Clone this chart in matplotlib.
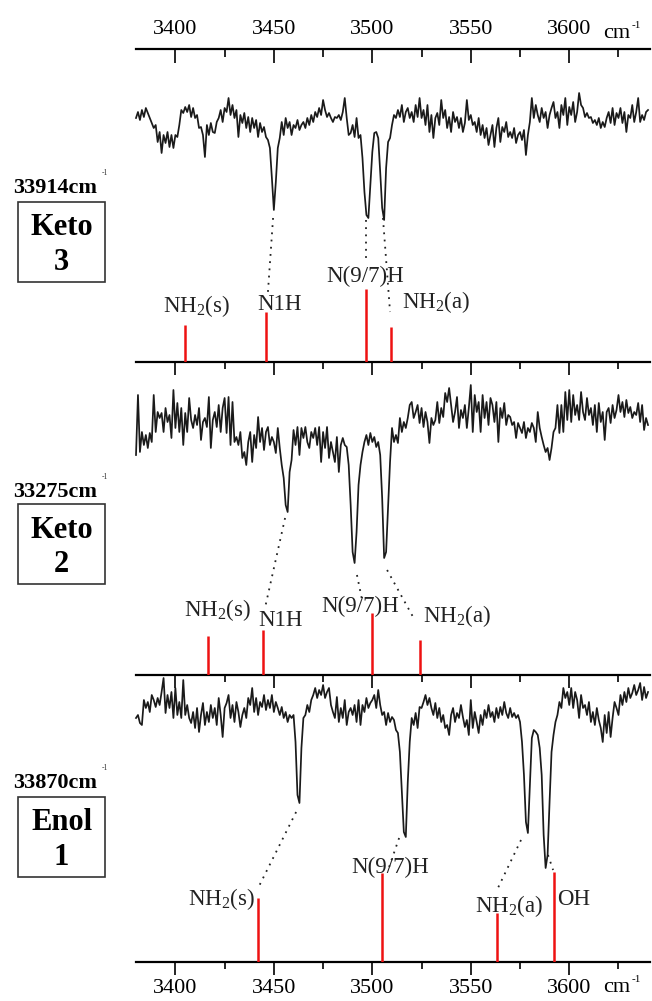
import numpy as np
import matplotlib
matplotlib.use("Agg")
import matplotlib.pyplot as plt
from matplotlib.patches import Rectangle
from matplotlib.ticker import MultipleLocator, FixedLocator

plt.rcParams['font.family'] = ['Liberation Serif', 'DejaVu Serif']
plt.rcParams['mathtext.fontset'] = 'custom'
plt.rcParams['mathtext.rm'] = 'Liberation Serif'
plt.rcParams['mathtext.it'] = 'Liberation Serif:italic'
plt.rcParams['mathtext.bf'] = 'Liberation Serif:bold'
plt.rcParams['mathtext.default'] = 'regular'

# ---------------- data ----------------
wavenumber = np.arange(3380, 3641)  # cm^-1, 1 cm^-1 sampling
major_ticks = [3400, 3450, 3500, 3550, 3600]
minor_ticks = [3425, 3475, 3525, 3575, 3625]

keto3_signal = [
    244, 250, 242, 252, 245, 254, 249, 244, 239, 234,
    237, 220, 230, 209, 227, 219, 230, 215, 227, 214,
    227, 225, 237, 252, 249, 255, 250, 257, 245, 254,
    244, 247, 234, 235, 227, 205, 237, 227, 239, 230,
    229, 240, 244, 252, 240, 254, 250, 264, 247, 257,
    244, 252, 225, 247, 239, 249, 234, 245, 230, 244,
    234, 242, 225, 239, 230, 235, 225, 222, 214, 184,
    152, 180, 214, 224, 240, 227, 244, 234, 240, 227,
    237, 234, 242, 232, 237, 240, 234, 244, 237, 247,
    240, 250, 245, 254, 247, 262, 252, 245, 249, 244,
    240, 245, 244, 247, 242, 250, 264, 244, 227, 229,
    237, 225, 244, 224, 227, 204, 170, 147, 144, 177,
    210, 229, 230, 224, 190, 154, 142, 194, 220, 224,
    237, 247, 244, 252, 245, 257, 240, 250, 254, 244,
    250, 240, 257, 245, 264, 244, 252, 237, 257, 230,
    247, 224, 244, 249, 237, 262, 244, 252, 234, 245,
    230, 250, 240, 245, 234, 244, 230, 239, 262, 242,
    247, 237, 240, 230, 244, 227, 237, 224, 234, 217,
    227, 237, 215, 234, 244, 220, 235, 230, 240, 225,
    230, 224, 234, 219, 227, 230, 222, 232, 207, 227,
    240, 264, 244, 257, 247, 240, 254, 244, 250, 234,
    247, 254, 260, 244, 250, 234, 257, 247, 264, 237,
    255, 247, 260, 240, 250, 269, 257, 254, 245, 249,
    244, 245, 239, 242, 237, 244, 234, 240, 235, 244,
    250, 239, 254, 237, 249, 244, 254, 239, 250, 230,
    247, 244, 257, 240, 250, 264, 240, 247, 242, 250, 252,
]

keto2_signal = [
    220, 280, 223, 243, 230, 240, 227, 242, 233, 280,
    243, 263, 257, 262, 243, 267, 253, 260, 237, 285,
    247, 272, 243, 267, 230, 262, 243, 277, 255, 247,
    260, 250, 267, 235, 253, 257, 248, 278, 227, 255,
    263, 248, 270, 243, 267, 277, 242, 278, 230, 273,
    233, 238, 230, 243, 217, 223, 210, 233, 243, 213,
    240, 227, 258, 233, 247, 225, 243, 248, 230, 238,
    233, 222, 247, 227, 210, 197, 170, 163, 203, 215,
    245, 230, 248, 220, 247, 237, 248, 233, 227, 243,
    237, 247, 230, 248, 213, 243, 227, 248, 217, 233,
    223, 213, 238, 203, 230, 237, 230, 228, 210, 170,
    123, 112, 143, 190, 210, 223, 233, 240, 230, 242,
    233, 238, 228, 233, 220, 177, 117, 123, 167, 213,
    247, 233, 240, 232, 257, 243, 253, 247, 257, 270,
    273, 257, 263, 270, 252, 267, 248, 263, 253, 232,
    257, 250, 255, 273, 252, 267, 258, 282, 273, 287,
    270, 253, 263, 278, 247, 265, 257, 270, 247, 267,
    290, 243, 280, 263, 273, 243, 280, 257, 273, 250,
    277, 270, 253, 273, 233, 267, 257, 272, 250, 260,
    258, 250, 253, 237, 252, 247, 242, 253, 237, 247,
    243, 252, 247, 233, 263, 247, 238, 230, 223, 227,
    215, 227, 243, 247, 270, 242, 270, 243, 283, 255,
    285, 253, 280, 260, 270, 255, 283, 263, 255, 277,
    260, 267, 250, 270, 243, 272, 253, 263, 235, 263,
    267, 252, 270, 257, 265, 280, 263, 273, 258, 275,
    262, 268, 257, 263, 260, 272, 253, 270, 245, 257, 250,
]

enol1_signal = [
    244, 247, 239, 237, 262, 254, 260, 250, 267, 262,
    255, 264, 257, 270, 284, 249, 267, 254, 270, 244,
    274, 247, 260, 244, 282, 247, 257, 244, 239, 250,
    234, 254, 230, 247, 259, 237, 250, 240, 257, 244,
    254, 237, 264, 247, 225, 254, 259, 267, 244, 257,
    240, 260, 250, 235, 247, 254, 244, 264, 257, 274,
    250, 264, 247, 260, 255, 267, 252, 262, 254, 267,
    250, 260, 254, 247, 255, 244, 250, 240, 247, 244,
    247, 220, 167, 159, 214, 244, 247, 257, 250, 262,
    267, 274, 264, 272, 267, 277, 264, 270, 274, 257,
    250, 244, 265, 240, 254, 244, 262, 237, 250, 254,
    247, 257, 240, 262, 237, 257, 250, 264, 254, 259,
    262, 267, 254, 272, 257, 247, 250, 237, 249, 240,
    245, 242, 232, 229, 210, 170, 130, 125, 180, 220,
    244, 237, 249, 234, 255, 254, 260, 267, 257, 264,
    254, 247, 259, 244, 254, 240, 247, 234, 237, 227,
    247, 254, 240, 249, 244, 257, 245, 235, 242, 227,
    262, 234, 250, 240, 229, 247, 237, 252, 244, 257,
    245, 250, 240, 254, 244, 255, 247, 260, 249, 244,
    254, 245, 249, 244, 247, 240, 220, 187, 140, 129,
    177, 224, 232, 230, 227, 214, 187, 127, 94, 107,
    160, 210, 227, 240, 247, 260, 254, 274, 264, 270,
    257, 274, 254, 270, 262, 244, 267, 254, 257, 247,
    260, 240, 250, 237, 254, 242, 234, 220, 247, 229,
    250, 225, 244, 260, 254, 247, 267, 257, 270, 260,
    274, 264, 269, 277, 267, 272, 279, 262, 275, 264, 270,
]

keto3_stick_pos = [3405.0, 3446.0, 3497.0, 3509.6]
keto3_stick_int = [37, 50, 73, 35]
keto3_stick_lab = ['NH$_2$(s)', 'N1H', 'N(9/7)H', 'NH$_2$(a)']

keto2_stick_pos = [3416.8, 3444.7, 3500.0, 3524.0]
keto2_stick_int = [39, 45, 62, 35]
keto2_stick_lab = ['NH$_2$(s)', 'N1H', 'N(9/7)H', 'NH$_2$(a)']

enol1_stick_pos = [3442.0, 3505.0, 3563.3, 3592.0]
enol1_stick_int = [64, 89, 49, 90]
enol1_stick_lab = ['NH$_2$(s)', 'N(9/7)H', 'NH$_2$(a)', 'OH']

excitation = ['33914cm', '33275cm', '33870cm']
species = ['Keto', 'Keto', 'Enol']
species_num = ['3', '2', '1']

# ---------------- layout (pixel based) ----------------
W, H = 652, 1001
fig = plt.figure(figsize=(W / 100, H / 100), dpi=100)

def fx(x):
    return x / W

def fy(y):
    return 1 - y / H

ax_left, ax_right = 136, 650
panels_px = [(49, 362), (362, 675), (675, 962)]

label_xy = [
    [(3410.7, 50), (3452.9, 52), (3496.3, 80), (3532.4, 54)],
    [(3421.4, 59), (3453.4, 49), (3493.8, 63), (3543.0, 53)],
    [(3423.4, 57), (3509.0, 89), (3569.4, 50), (3602.2, 57)],
]
connectors = [
    [((3449.6, 144), (3447.0, 70)), ((3496.8, 142), (3496.8, 100)),
     ((3505.4, 144), (3509.0, 50))],
    [((3455.7, 157), (3445.5, 67)), ((3492.2, 100), (3494.8, 75)),
     ((3507.5, 105), (3520.7, 58))],
    [((3461.3, 150), (3442.0, 74)), ((3513.6, 124), (3508.0, 92)),
     ((3575.5, 122), (3563.3, 72)), ((3589.2, 107), (3591.8, 92))],
]

signals = [keto3_signal, keto2_signal, enol1_signal]
sticks = [(keto3_stick_pos, keto3_stick_int, keto3_stick_lab),
          (keto2_stick_pos, keto2_stick_int, keto2_stick_lab),
          (enol1_stick_pos, enol1_stick_int, enol1_stick_lab)]

axes = []
for i, (top, bot) in enumerate(panels_px):
    ax = fig.add_axes([fx(ax_left), fy(bot), fx(ax_right) - fx(ax_left), (bot - top) / H])
    ax.set_xlim(3380, 3641)
    ax.set_ylim(0, bot - top)
    ax.patch.set_alpha(0)
    for s in ['left', 'right', 'top']:
        ax.spines[s].set_visible(False)
    ax.spines['bottom'].set_linewidth(1.6)
    ax.set_yticks([])
    ax.xaxis.set_major_locator(FixedLocator(major_ticks))
    ax.xaxis.set_minor_locator(FixedLocator(minor_ticks))
    ax.tick_params(axis='x', which='major', direction='out', length=9, width=1.2,
                   labelsize=16, pad=3, labelbottom=(i == 2))
    ax.tick_params(axis='x', which='minor', direction='out', length=5, width=1.2)

    ax.plot(wavenumber, signals[i], color='#1a1a1a', lw=1.25, clip_on=False, zorder=3)

    pos, inten, labs = sticks[i]
    ax.vlines(pos, 0, inten, color='#ee1111', lw=1.8, zorder=4)
    for (lx, ly), lab in zip(label_xy[i], labs):
        ax.text(lx, ly, lab, ha='center', va='baseline', fontsize=16.5, color='#222222')
    for (p0, p1) in connectors[i]:
        ax.plot([p0[0], p1[0]], [p0[1], p1[1]], color='#222222', lw=1.3,
                ls=(0, (1, 3)), clip_on=False, zorder=2)
    axes.append(ax)

# top axis of the first panel
sec = axes[0].secondary_xaxis('top')
sec.spines['top'].set_linewidth(1.6)
sec.xaxis.set_major_locator(FixedLocator(major_ticks))
sec.xaxis.set_minor_locator(FixedLocator(minor_ticks))
sec.tick_params(axis='x', which='major', direction='in', length=10, width=1.2,
                labelsize=16, pad=7)
sec.tick_params(axis='x', which='minor', direction='in', length=6, width=1.2)

# unit labels (cm^-1 with small raised exponent)
for base in (38, 992):
    fig.text(fx(603), fy(base), 'cm', fontsize=16, ha='left', va='baseline')
    fig.text(fx(632), fy(base - 10), '-1', fontsize=8, ha='left', va='baseline')

# left side annotations
text_base = [193, 497, 788]
box_top = [202, 504, 797]
name_base = [235, 538, 830]
num_base = [270, 572, 865]
for i in range(3):
    fig.text(fx(13), fy(text_base[i]), excitation[i], fontsize=16, fontweight='bold',
             ha='left', va='baseline')
    fig.text(fx(102), fy(text_base[i] - 18), '-1', fontsize=5.5, ha='left',
             va='baseline', color='#333333')
    fig.patches.append(Rectangle((fx(18), fy(box_top[i] + 80)), fx(87), 80 / H,
                                 transform=fig.transFigure, fill=False,
                                 edgecolor='#333333', lw=1.2))
    fig.text(fx(61.5), fy(name_base[i]), species[i], fontsize=22, fontweight='bold',
             ha='center', va='baseline')
    fig.text(fx(61.5), fy(num_base[i]), species_num[i], fontsize=22, fontweight='bold',
             ha='center', va='baseline')

fig.savefig('out.png', dpi=100)
